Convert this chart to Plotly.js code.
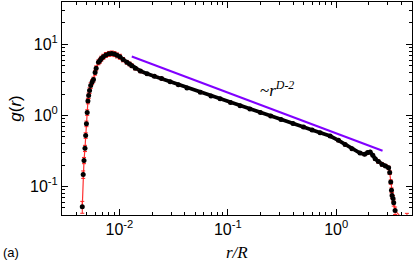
<!DOCTYPE html>
<html>
<head>
<meta charset="utf-8">
<script src="https://cdn.plot.ly/plotly-3.0.1.min.js"></script>
<style>html,body{margin:0;padding:0;background:#fff}#chart{width:415px;height:264px}</style>
</head>
<body>
<div id="chart"></div>
<script>
// r/R values
const rR = [0.00454,0.00463,0.00471,0.00481,0.00488,0.00496,0.00504,0.00512,0.00520,0.00530,0.00543,0.00560,0.00576,0.00596,0.0061,0.0064,0.0066,0.0068,0.0071,0.0075,0.0080,0.0085,0.0090,0.0095,0.0101,0.0108,0.0117,0.0124,0.0130,0.0140,0.0156,0.0180,0.0210,0.0245,0.0294,0.0350,0.042,0.0558,0.070,0.085,0.106,0.130,0.160,0.200,0.249,0.310,0.400,0.500,0.600,0.711,0.880,1.05,1.21,1.40,1.66,1.83,1.95,2.06,2.18,2.29,2.45,2.65,2.85,3.05,3.12,3.19,3.24,3.28,3.35,3.40,3.50,4.50];
// g(r) values
const gR = [0.052,0.148,0.233,0.345,0.523,0.764,1.10,1.60,1.90,2.24,2.64,2.95,3.20,4.00,4.60,5.60,5.90,6.30,6.70,7.10,7.35,7.45,7.30,7.00,6.70,6.10,5.60,5.30,5.00,4.60,4.20,3.85,3.55,3.30,2.98,2.69,2.44,2.11,1.88,1.71,1.52,1.37,1.23,1.10,0.98,0.877,0.77,0.686,0.625,0.573,0.513,0.446,0.390,0.340,0.296,0.284,0.300,0.305,0.275,0.246,0.225,0.205,0.195,0.184,0.157,0.116,0.0885,0.075,0.068,0.059,0.046,0.030];
// relative error of each point
const relErr = [0.19,0.12,0.1,0.1,0.09,0.09,0.09,0.09,0.09,0.09,0.09,0.08,0.08,0.08,0.08,0.08,0.08,0.08,0.08,0.08,0.08,0.08,0.08,0.08,0.08,0.07,0.06,0.06,0.06,0.05,0.05,0.04,0.04,0.04,0.03,0.03,0.03,0.03,0.03,0.03,0.03,0.03,0.03,0.03,0.03,0.03,0.03,0.03,0.03,0.03,0.03,0.04,0.04,0.04,0.04,0.04,0.04,0.04,0.04,0.04,0.05,0.05,0.05,0.05,0.06,0.07,0.08,0.09,0.1,0.1,0.12,0.4];
// guide power law ~ r^(D-2)
const guideX = [0.0130, 2.68];
const guideY = [6.74, 0.319];
// tick labels
const xTickVals = [0.01, 0.1, 1];
const xTickText = ['10<sup>-2</sup>', '10<sup>-1</sup>', '10<sup>0</sup>'];
const yTickVals = [0.1, 1, 10];
const yTickText = ['10<sup>-1</sup>', '10<sup>0</sup>', '10<sup>1</sup>'];
const xTitle = '<i>r/R</i>';
const yTitle = '<i>g</i>(<i>r</i>)';
const guideLabel = '~<i>r</i><sup><i>D-2</i></sup>';
const panelLabel = '(a)';

const err = gR.map((v,i)=>v*relErr[i]);
const denseX = [], denseY = [];
rR.forEach((v,i)=>{ if (v>=0.0064 && v<=3.05) { denseX.push(v); denseY.push(gR[i]); } });

const traces = [
  {x: rR, y: gR, type:'scatter', mode:'lines', line:{color:'#ff3030', width:1.2}, hoverinfo:'skip', showlegend:false},
  {x: denseX, y: denseY, type:'scatter', mode:'lines', line:{color:'black', width:3.8}, hoverinfo:'skip', showlegend:false},
  {x: rR, y: gR, type:'scatter', mode:'markers',
   marker:{color:'black', size:5},
   error_y:{type:'data', array: err, visible:true, color:'#ff2020', thickness:1, width:2},
   showlegend:false},
  {x: guideX, y: guideY, type:'scatter', mode:'lines', line:{color:'#8000ff', width:2}, showlegend:false}
];

const axisCommon = {
  type:'log', showline:true, linecolor:'black', linewidth:1, mirror:'allticks',
  ticks:'inside', ticklen:6, tickwidth:1, tickcolor:'black', tickmode:'array',
  showgrid:false, zeroline:false,
  tickfont:{family:'Liberation Sans, Arial, sans-serif', size:16, color:'black'},
  minor:{ticks:'inside', ticklen:3, tickcolor:'black', showgrid:false, dtick:'D1'}
};

const layout = {
  width:415, height:264,
  margin:{l:62, r:3, t:2, b:49},
  paper_bgcolor:'white', plot_bgcolor:'white',
  xaxis: Object.assign({}, axisCommon, {range:[-2.53, 0.70], tickvals:xTickVals, ticktext:xTickText}),
  yaxis: Object.assign({}, axisCommon, {range:[-1.40, 1.595], tickvals:yTickVals, ticktext:yTickText,
    title:{text:yTitle, font:{family:'Liberation Sans, Arial, sans-serif', size:17, color:'black'}, standoff:4}}),
  annotations:[
    {xref:'paper', yref:'paper', x:0.5, y:0, yshift:-48, xanchor:'center', yanchor:'bottom', borderpad:0, text:xTitle, showarrow:false,
     font:{family:'Liberation Serif, Times New Roman, serif', size:17, color:'black'}},
    {xref:'paper', yref:'paper', x:0.614, y:0.59, text:guideLabel, showarrow:false,
     font:{family:'Liberation Serif, Times New Roman, serif', size:17, color:'black'}},
    {xref:'paper', yref:'paper', x:0, y:0, xshift:-61, yshift:-47, xanchor:'left', yanchor:'bottom', text:panelLabel, showarrow:false,
     font:{family:'Liberation Sans, Arial, sans-serif', size:13, color:'black'}}
  ]
};
Plotly.newPlot('chart', traces, layout, {displayModeBar:false, staticPlot:true});
</script>
</body>
</html>
